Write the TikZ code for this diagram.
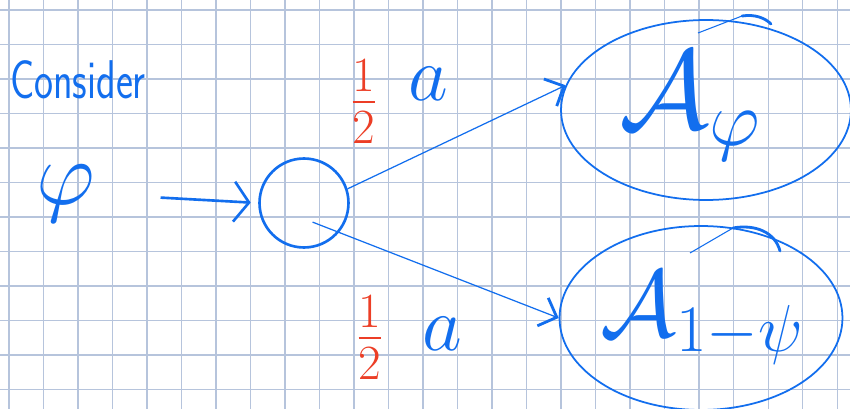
\RequirePackage{fix-cm}
\documentclass[tikz,border=0pt]{standalone}
\usepackage{amsmath}
\usetikzlibrary{arrows.meta,shapes.geometric}
\definecolor{ink}{RGB}{18,110,238}
\definecolor{redink}{RGB}{236,62,38}
\definecolor{gridline}{RGB}{182,196,220}
\tikzset{
  ink text/.style={text=ink,inner sep=0pt},
  red text/.style={text=redink,inner sep=0pt},
  grid line/.style={gridline,line width=0.8pt},
  gate node/.style={circle,draw=ink,line width=1.5pt,minimum size=1.78cm,inner sep=0pt},
  set node/.style={ellipse,draw=ink,line width=1pt,inner sep=0pt},
  feed edge/.style={draw=ink,line width=1.5pt,-{Straight Barb[length=3mm,width=8mm]}},
  split edge/.style={draw=ink,line width=0.7pt,-{Straight Barb[length=3mm,width=6mm,line width=1.6pt]}},
  hat stroke/.style={draw=ink,line width=0.6pt},
  hat arc/.style={draw=ink,line width=1.6pt,line cap=round},
}

\begin{document}
\begin{tikzpicture}[x=0.02cm,y=-0.02cm]
  \useasboundingbox (0,0) rectangle (850,409);
  \clip (0,0) rectangle (850,409);
  \fill[white] (0,0) rectangle (850,409);
  \foreach \i in {0,...,24} \draw[grid line] (8.8+34.52*\i,0) -- ++(0,409);
  \foreach \j in {0,...,11} \draw[grid line] (0,10+34.5*\j) -- ++(850,0);

  \node[ink text,font=\sffamily\fontsize{23}{28}\selectfont,yscale=1.35] (consider) at (78,80) {Consider};
  \node[ink text,font=\fontsize{52}{60}\selectfont] (phi) at (66,194) {$\varphi$};
  \node[gate node] (gate) at (304,203) {};
  \node[set node,minimum width=5.8cm,minimum height=3.6cm] (top) at (706,110) {};
  \node[set node,minimum width=5.66cm,minimum height=3.68cm] (bot) at (701,318) {};
  \node[ink text,font=\fontsize{64}{72}\selectfont] (topset) at (690,106) {$\mathcal{A}_{\varphi}$};
  \node[ink text,font=\fontsize{54}{60}\selectfont] (botset) at (702,318) {$\mathcal{A}_{1-\psi}$};

  \node[red text,font=\fontsize{40}{46}\selectfont] (tophalf) at (364,102) {$\frac{1}{2}$};
  \node[ink text,font=\fontsize{44}{50}\selectfont] (topa) at (428,84) {$a$};
  \node[red text,font=\fontsize{40}{46}\selectfont] (bothalf) at (370,338) {$\frac{1}{2}$};
  \node[ink text,font=\fontsize{44}{50}\selectfont] (bota) at (442,334) {$a$};

  \draw[feed edge,shorten <=1.3cm,shorten >=0.15cm] (phi.east) -- (gate.west);
  \draw[split edge] (gate.18) -- (top.170);
  \draw[split edge,shorten <=-0.57cm] (gate.-40) -- (bot.180);

  \draw[hat stroke] (698,33) -- (742,16);
  \draw[hat arc] (742,16) .. controls (755,14) and (765,18) .. (771,24);
  \draw[hat stroke] (690,253) -- (733,228);
  \draw[hat arc] (733,228) .. controls (755,224) and (775,232) .. (780,251);
\end{tikzpicture}
\end{document}
